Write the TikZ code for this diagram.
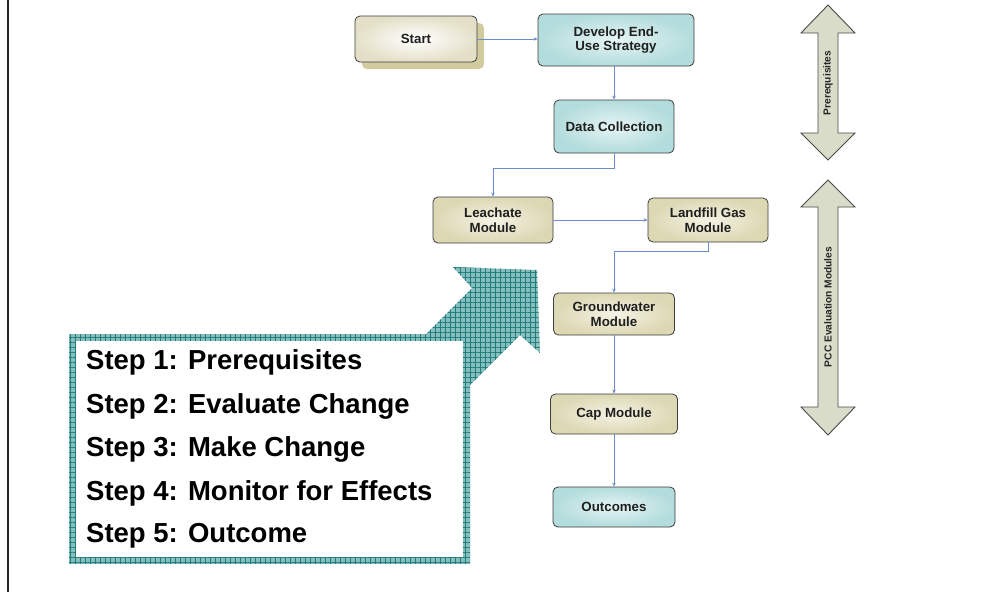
\documentclass[tikz,border=0pt]{standalone}
\usepackage{fontspec}
\setmainfont{Liberation Sans}
\usetikzlibrary{arrows.meta,patterns.meta,shadows}
\definecolor{tealout}{HTML}{B3DCDC}
\definecolor{tealin}{HTML}{E6F4F4}
\definecolor{khout}{HTML}{DCD8B4}
\definecolor{khin}{HTML}{F4F2E4}
\definecolor{stout}{HTML}{E4E0C8}
\definecolor{shadowc}{HTML}{CCC693}
\definecolor{bordc}{HTML}{3C3C3C}
\definecolor{linkc}{HTML}{6C8DCB}
\definecolor{dblfill}{HTML}{D9DCC9}
\definecolor{dblbord}{HTML}{4A4A4A}
\definecolor{hatchbase}{HTML}{86BEBE}
\definecolor{hatchline}{HTML}{217C7C}
\tikzset{
  box/.style={rounded corners=5pt, draw=bordc, line width=0.8pt, font=\bfseries\fontsize{13.3}{14.5}\selectfont,
    text=black!88, align=center, inner sep=2pt},
  tealbox/.style={box, inner color=tealin, outer color=tealout},
  khbox/.style={box, inner color=khin, outer color=khout},
  link/.style={draw=linkc, line width=0.7pt, -{Stealth[length=4pt,width=3.5pt]}},
  dbl/.style={fill=dblfill, draw=dblbord, line width=0.9pt},
  dbllabel/.style={rotate=90, font=\bfseries\fontsize{10.2}{11}\selectfont, text=black!85},
  hatched/.style={preaction={fill=hatchbase}, pattern={Hatch[distance=5pt, angle=0, line width=0.75pt]}, pattern color=hatchline},
  steptext/.style={anchor=west, font=\bfseries\fontsize{27.5}{30}\selectfont, text=black, inner sep=0pt}
}
\begin{document}
\begin{tikzpicture}[x=1pt,y=-1pt]
\useasboundingbox (0,0) rectangle (1005,592);
\fill[white] (0,0) rectangle (1005,592);
% left border line
\draw[line width=2pt, black!85] (8,0) -- (8,592);

% big hatched arrow
\path[hatched] (453,267) -- (537,270) -- (540,353) -- (520,335) -- (450,405) -- (400,360) -- (472,288) -- cycle;

% steps box
\path[hatched] (69,334) rectangle (470,564);
\fill[white] (76,341) rectangle (463,557);
\node[steptext] (s1) at (86,362) {Step 1: Prerequisites};
\node[steptext] (s2) at (86,406) {Step 2: Evaluate Change};
\node[steptext] (s3) at (86,449) {Step 3: Make Change};
\node[steptext] (s4) at (86,493) {Step 4: Monitor for Effects};
\node[steptext] (s5) at (86,536) {Step 5: Outcome};

% flow nodes
\node[box, inner color=white, outer color=stout, minimum width=122pt, minimum height=46pt,
  drop shadow={shadow xshift=7pt, shadow yshift=-7pt, fill=shadowc, opacity=0.9}] (start) at (416,39) {Start};
\node[tealbox, minimum width=156pt, minimum height=52pt] (dev) at (616,40) {Develop End-\\Use Strategy};
\node[tealbox, minimum width=120pt, minimum height=53pt] (data) at (614,126.5) {Data Collection};
\node[khbox, minimum width=120pt, minimum height=46pt] (leach) at (493,220) {Leachate\\Module};
\node[khbox, minimum width=120pt, minimum height=44pt] (gas) at (708,220) {Landfill Gas\\Module};
\node[khbox, minimum width=121pt, minimum height=42pt] (gw) at (614,314) {Groundwater\\Module};
\node[khbox, minimum width=127pt, minimum height=40pt] (cap) at (614,414) {Cap Module};
\node[tealbox, minimum width=122pt, minimum height=40pt] (out) at (614,507) {Outcomes};

% connectors
\draw[link] (start.east) -- (start.east -| dev.west);
\draw[link] (dev.south -| data.north) -- (data.north);
\draw[link] (data.south) -- ++(0,15) -| (leach.north);
\draw[link] (leach.east) -- (leach.east -| gas.west);
\draw[link] (gas.south) -- ++(0,9) -| (gw.north);
\draw[link] (gw.south) -- (cap.north);
\draw[link] (cap.south) -- (out.north);

% double arrows
\path[dbl] (828,5) -- (855,33) -- (838,33) -- (838,133) -- (855,133) -- (828,160) -- (801,133) -- (818,133) -- (818,33) -- (801,33) -- cycle;
\node[dbllabel] (pre) at (828,83) {Prerequisites};
\path[dbl] (828,180) -- (855,207) -- (838,207) -- (838,407) -- (855,407) -- (828,435) -- (801,407) -- (818,407) -- (818,207) -- (801,207) -- cycle;
\node[dbllabel] (pcc) at (828,307) {PCC Evaluation Modules};
\end{tikzpicture}
\end{document}
